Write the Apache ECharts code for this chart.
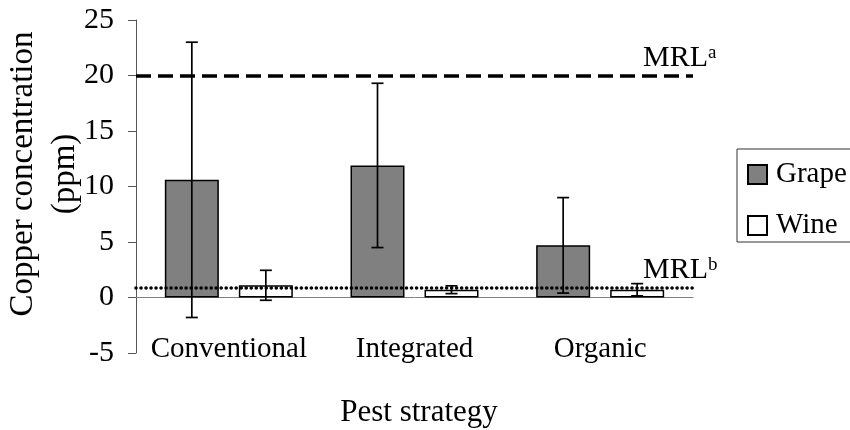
<!DOCTYPE html>
<html lang="en">
<head>
<meta charset="UTF-8">
<title>Copper concentration</title>
<script src="https://cdn.jsdelivr.net/npm/echarts@6/dist/echarts.min.js"></script>
<style>
  html, body { margin: 0; padding: 0; background: #fff; }
</style>
</head>
<body>
<div id="main" style="width:850px;height:430px;"></div>
<script type="text/javascript">
// data
var categories = ['Conventional', 'Integrated', 'Organic'];
var grape = [10.6, 11.9, 4.7];
var grapeSd = [12.4, 7.4, 4.3];
var wine = [1.1, 0.7, 0.7];
var wineSd = [1.35, 0.35, 0.55];
var yTicks = [-5, 0, 5, 10, 15, 20, 25];
var mrlGrape = 20;
var mrlWine = 0.85;

var FONT = 'Liberation Serif';
var BAR_W = 54;
var BAR_GAP = 20;

function errData(mean, sd) {
  var out = [];
  for (var i = 0; i < mean.length; i++) {
    out.push([i, mean[i] - sd[i], mean[i] + sd[i]]);
  }
  return out;
}

// draws one error bar, shifted to the bar it belongs to
function errRender(shift) {
  return function (params, api) {
    var x = api.coord([api.value(0), 0])[0] + shift;
    var lo = api.coord([api.value(0), api.value(1)])[1];
    var hi = api.coord([api.value(0), api.value(2)])[1];
    var st = { stroke: '#000', lineWidth: 1.7 };
    return {
      type: 'group',
      children: [
        { type: 'line', shape: { x1: x, y1: lo, x2: x, y2: hi }, style: st },
        { type: 'line', shape: { x1: x - 6, y1: hi, x2: x + 6, y2: hi }, style: st },
        { type: 'line', shape: { x1: x - 6, y1: lo, x2: x + 6, y2: lo }, style: st }
      ]
    };
  };
}

var myChart = echarts.init(document.getElementById('main'));

var shift = (BAR_W + BAR_GAP) / 2;

myChart.setOption({
  animation: false,
  textStyle: { fontFamily: FONT },
  grid: { left: 136, right: 157, top: 20, bottom: 77 },
  legend: {
    orient: 'vertical',
    left: 737,
    top: 149,
    padding: [11, 10, 2, 10],
    itemGap: 22,
    itemWidth: 19,
    itemHeight: 19,
    icon: 'rect',
    borderColor: '#333',
    borderWidth: 1,
    data: ['Grape', 'Wine'],
    textStyle: { fontFamily: FONT, fontSize: 29, color: '#000', padding: [0, 0, 0, 4] }
  },
  xAxis: {
    type: 'category',
    data: categories,
    axisLine: { onZero: true, lineStyle: { color: '#808080', width: 1 } },
    axisTick: { length: 9, lineStyle: { color: '#333' } },
    axisLabel: { fontFamily: FONT, fontSize: 29, color: '#000', margin: -18, interval: 0 },
    splitLine: { show: false }
  },
  yAxis: {
    type: 'value',
    min: yTicks[0],
    max: yTicks[yTicks.length - 1],
    interval: 5,
    axisLine: { show: true, lineStyle: { color: '#555', width: 1 } },
    axisTick: { show: true, length: 8, lineStyle: { color: '#555' } },
    axisLabel: { fontFamily: FONT, fontSize: 30, color: '#000', margin: 22, padding: [6, 0, 0, 0] },
    splitLine: { show: false }
  },
  series: [
    {
      name: 'Grape',
      type: 'bar',
      data: grape,
      barWidth: BAR_W,
      barGap: (BAR_GAP / BAR_W * 100) + '%',
      itemStyle: { color: '#808080', borderColor: '#000', borderWidth: 1.5 }
    },
    {
      name: 'Wine',
      type: 'bar',
      data: wine,
      barWidth: BAR_W,
      itemStyle: { color: '#fff', borderColor: '#000', borderWidth: 1.5 }
    },
    {
      type: 'custom',
      name: 'grapeErr',
      renderItem: errRender(-shift),
      data: errData(grape, grapeSd),
      z: 5
    },
    {
      type: 'custom',
      name: 'wineErr',
      renderItem: errRender(shift),
      data: errData(wine, wineSd),
      z: 5,
      markLine: {
        silent: true,
        symbol: 'none',
        label: { show: false },
        data: [
          { yAxis: mrlGrape, lineStyle: { color: '#000', width: 3.5, type: [15, 7] } },
          { yAxis: mrlWine, lineStyle: { color: '#000', width: 3.6, type: [0.01, 5], cap: 'round' } }
        ]
      }
    }
  ]
});

// text annotations placed from the axis scale
var yA = myChart.convertToPixel({ yAxisIndex: 0 }, mrlGrape);
var yB = myChart.convertToPixel({ yAxisIndex: 0 }, mrlWine);
var rich = {
  m: { fontFamily: FONT, fontSize: 30, color: '#000' },
  s: { fontFamily: FONT, fontSize: 19, color: '#000', verticalAlign: 'top' }
};

myChart.setOption({
  graphic: [
    {
      type: 'text',
      x: 44, y: 174,
      rotation: Math.PI / 2,
      style: {
        text: 'Copper concentration\n(ppm)',
        fontFamily: FONT, fontSize: 33, fill: '#000',
        align: 'center', verticalAlign: 'middle', lineHeight: 42
      }
    },
    {
      type: 'text',
      x: 419, y: 413,
      style: {
        text: 'Pest strategy',
        fontFamily: FONT, fontSize: 31, fill: '#000',
        align: 'center', verticalAlign: 'middle'
      }
    },
    {
      type: 'text',
      x: 643, y: yA - 2,
      style: { text: '{m|MRL}{s|a}', rich: rich, align: 'left', verticalAlign: 'bottom' }
    },
    {
      type: 'text',
      x: 643, y: yB - 3,
      style: { text: '{m|MRL}{s|b}', rich: rich, align: 'left', verticalAlign: 'bottom' }
    }
  ]
});
</script>
</body>
</html>
